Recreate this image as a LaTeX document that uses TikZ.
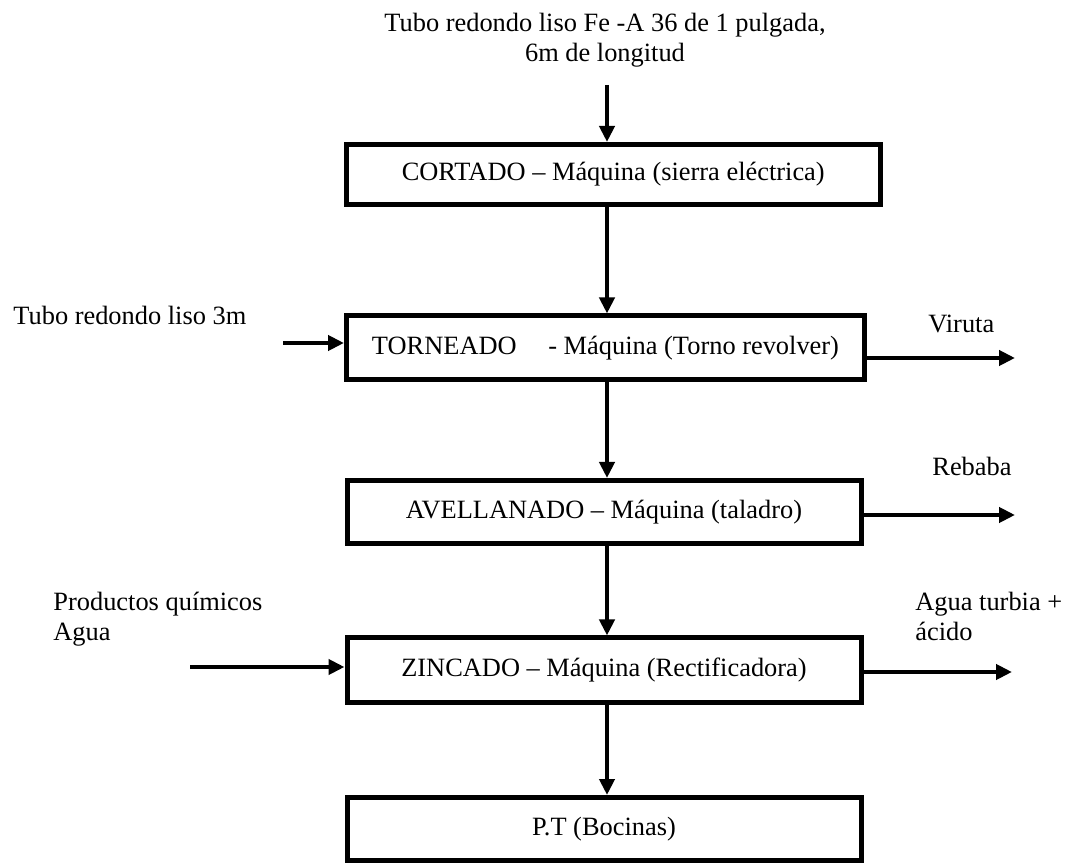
\documentclass[tikz,border=0pt]{standalone}
\usepackage{fontspec}
\setmainfont{Liberation Serif}
\usetikzlibrary{arrows.meta}
\begin{document}
\begin{tikzpicture}[x=0.5pt,y=-0.5pt,
  every node/.style={font=\fontsize{13.2}{15}\selectfont, inner sep=0pt},
  procbox/.style={draw, line width=2.5pt, minimum height=31.5pt, minimum width=257pt, align=center},
  flow/.style={line width=2.4pt, -{Triangle[length=8pt,width=7.5pt]}},
  lbl/.style={align=left, anchor=west}]
\useasboundingbox (0,0) rectangle (1071,865);

% process boxes
\node[procbox, minimum width=266.75pt, minimum height=30pt] (cort) at (613.25,174.5) {CORTADO -- Máquina (sierra eléctrica)};
\node[procbox, minimum width=259pt, minimum height=31.75pt] (torn) at (605.5,347.75) {TORNEADO\hspace{1.2em}- Máquina (Torno revolver)};
\node[procbox] (avel) at (604,512) {AVELLANADO -- Máquina (taladro)};
\node[procbox, minimum height=32pt] (zinc) at (604,670) {ZINCADO -- Máquina (Rectificadora)};
\node[procbox] (pt) at (604,829) {P.T (Bocinas)};

% main column
\coordinate (col) at (607,0);
\coordinate (src) at (607,85);
\node[align=center] (title) at (605,40.5) {Tubo redondo liso Fe -A 36 de 1 pulgada,\\6m de longitud};
\draw[flow] (src) -- (cort.north -| col);
\draw[flow] (cort.south -| col) -- (torn.north -| col);
\draw[flow] (torn.south -| col) -- (avel.north -| col);
\draw[flow] (avel.south -| col) -- (zinc.north -| col);
\draw[flow] (zinc.south -| col) -- (pt.north -| col);

% inputs
\node[lbl] (in1) at (13,315) {Tubo redondo liso 3m};
\coordinate (in1s) at (283,343);
\draw[flow] (in1s) -- (in1s -| torn.west);

\node[lbl] (in2) at (53,619.5) {Productos químicos\\Agua};
\coordinate (in2s) at (190,667);
\draw[flow] (in2s) -- (in2s -| zinc.west);

% outputs
\node[lbl] (out1) at (928,324) {Viruta};
\coordinate (out1e) at (1015,358);
\draw[flow] (torn.east |- out1e) -- (out1e);

\node[lbl] (out2) at (932,466.5) {Rebaba};
\coordinate (out2e) at (1015,515);
\draw[flow] (avel.east |- out2e) -- (out2e);

\node[lbl] (out3) at (915,616) {Agua turbia +\\ácido};
\coordinate (out3e) at (1012,672);
\draw[flow] (zinc.east |- out3e) -- (out3e);
\end{tikzpicture}
\end{document}
